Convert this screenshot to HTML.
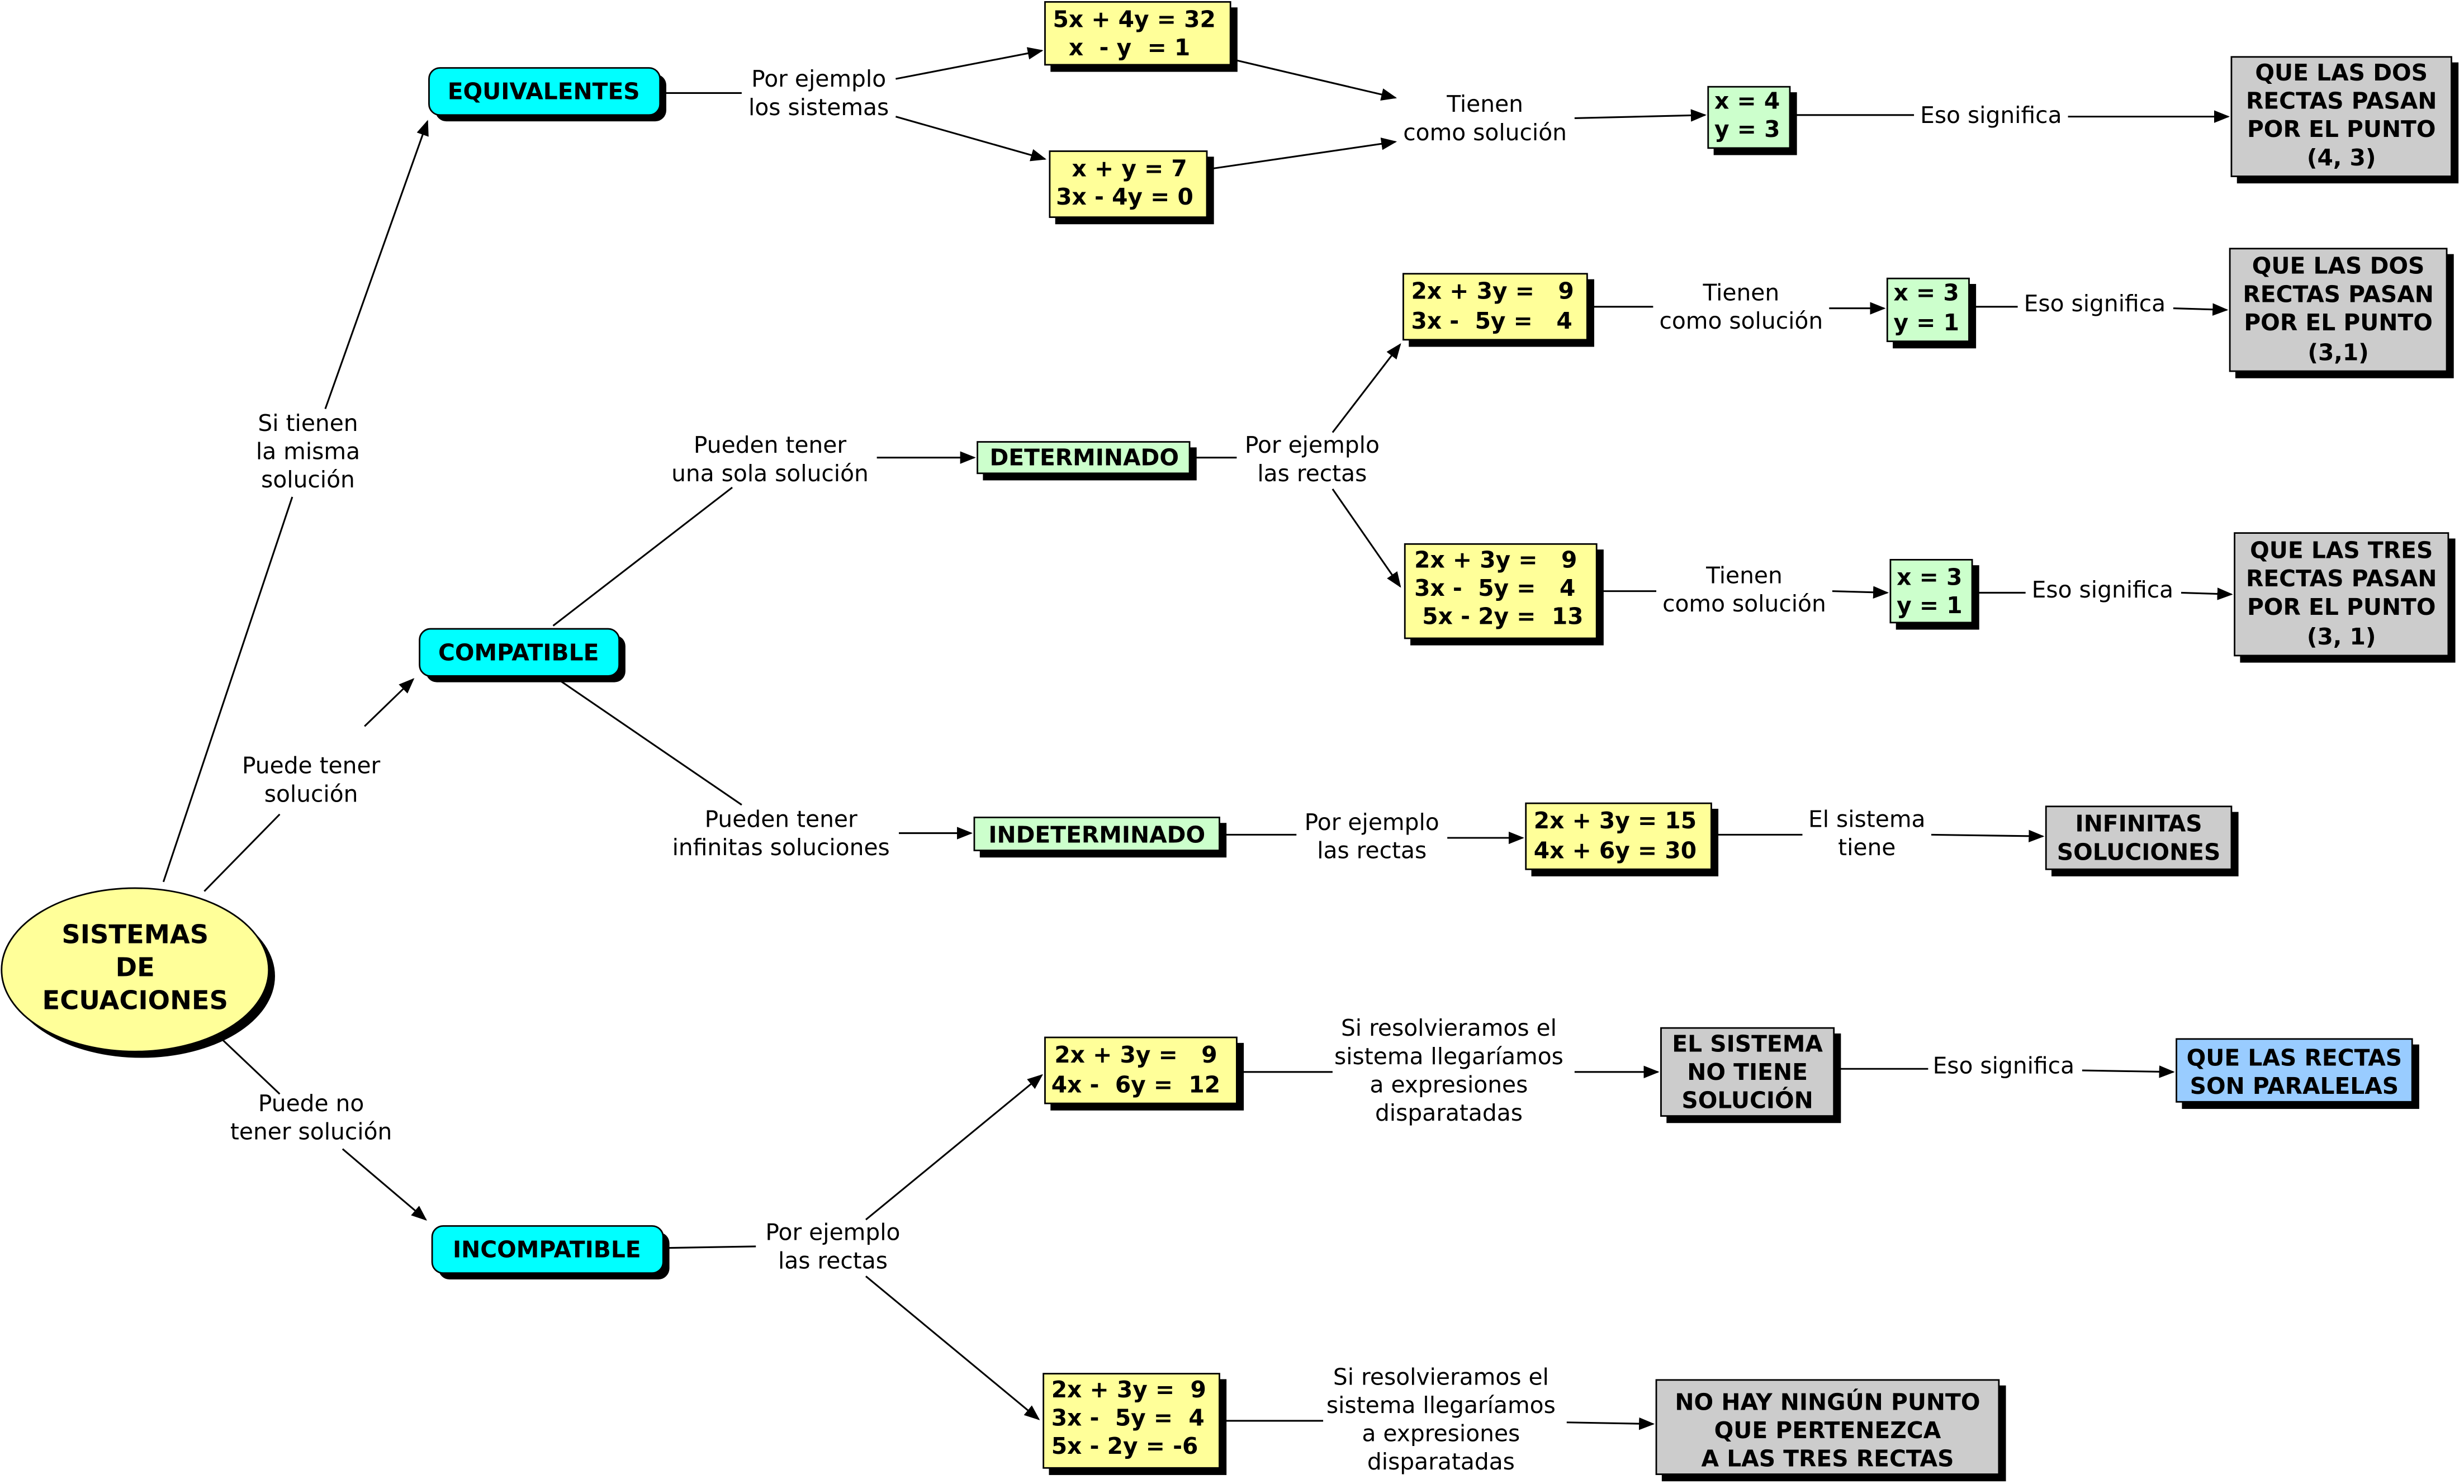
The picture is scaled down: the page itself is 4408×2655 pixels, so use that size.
<!DOCTYPE html>
<html><head><meta charset="utf-8"><style>
html,body{margin:0;padding:0;background:#fff;}
svg{display:block;}
text{font-family:"DejaVu Sans","Liberation Sans",sans-serif;}
.l{font-size:14.5px;fill:#000;text-anchor:middle;}
.b{font-size:14.5px;font-weight:bold;fill:#000;}
.bc{font-size:14.5px;font-weight:bold;fill:#000;text-anchor:middle;}
line,polyline{stroke:#000;stroke-width:1.1;fill:none;}
.a{marker-end:url(#ar);}
</style></head><body>
<svg width="4408" height="2655" viewBox="0 0 1568 944" xmlns="http://www.w3.org/2000/svg">
<defs><marker id="ar" markerWidth="10" markerHeight="8" refX="9" refY="4" orient="auto" markerUnits="userSpaceOnUse"><path d="M0,0 L10,4 L0,8 z" fill="#000"/></marker></defs>

<!-- connectors -->
<line x1="104" y1="561" x2="186" y2="316"/>
<line class="a" x1="207" y1="260" x2="272" y2="77"/>
<line x1="130" y1="567" x2="178" y2="518"/>
<line class="a" x1="232" y1="462" x2="263" y2="432"/>
<line x1="140" y1="660" x2="178" y2="696"/>
<line class="a" x1="218" y1="731" x2="271" y2="776"/>
<line x1="420" y1="59" x2="472" y2="59"/>
<line class="a" x1="570" y1="50" x2="663" y2="32"/>
<line class="a" x1="570" y1="74" x2="665" y2="101"/>
<line class="a" x1="786" y1="38" x2="888" y2="62"/>
<line class="a" x1="772" y1="107" x2="888" y2="90"/>
<line class="a" x1="1002" y1="75" x2="1085" y2="73"/>
<line x1="1140" y1="73" x2="1218" y2="73"/>
<line class="a" x1="1316" y1="74" x2="1418" y2="74"/>
<line x1="352" y1="398" x2="466" y2="310"/>
<line class="a" x1="558" y1="291" x2="620" y2="291"/>
<line x1="757" y1="291" x2="787" y2="291"/>
<line class="a" x1="848" y1="275" x2="891" y2="219"/>
<line class="a" x1="848" y1="311" x2="891" y2="373"/>
<line x1="1012" y1="195" x2="1052" y2="195"/>
<line class="a" x1="1164" y1="196" x2="1199" y2="196"/>
<line x1="1255" y1="195" x2="1284" y2="195"/>
<line class="a" x1="1383" y1="196" x2="1417" y2="197"/>
<line x1="1018" y1="376" x2="1054" y2="376"/>
<line class="a" x1="1166" y1="376" x2="1201" y2="377"/>
<line x1="1258" y1="377" x2="1289" y2="377"/>
<line class="a" x1="1388" y1="377" x2="1420" y2="378"/>
<line x1="355" y1="432" x2="472" y2="512"/>
<line class="a" x1="572" y1="530" x2="618" y2="530"/>
<line x1="777" y1="531" x2="825" y2="531"/>
<line class="a" x1="921" y1="533" x2="969" y2="533"/>
<line x1="1092" y1="531" x2="1147" y2="531"/>
<line class="a" x1="1229" y1="531" x2="1300" y2="532"/>
<line x1="424" y1="794" x2="481" y2="793"/>
<line class="a" x1="551" y1="776" x2="663" y2="684"/>
<line class="a" x1="551" y1="812" x2="661" y2="903"/>
<line x1="789" y1="682" x2="848" y2="682"/>
<line class="a" x1="1002" y1="682" x2="1055" y2="682"/>
<line x1="1170" y1="680" x2="1227" y2="680"/>
<line class="a" x1="1325" y1="681" x2="1383" y2="682"/>
<line x1="778" y1="904" x2="842" y2="904"/>
<line class="a" x1="997" y1="905" x2="1052" y2="906"/>

<!-- ellipse -->
<ellipse cx="90" cy="621" rx="85" ry="52" fill="#000"/>
<ellipse cx="86" cy="617" rx="85" ry="52" fill="#ffff99" stroke="#000" stroke-width="1"/>
<text class="bc" style="font-size:16.5px" x="86" y="600">SISTEMAS</text>
<text class="bc" style="font-size:16.5px" x="86" y="621">DE</text>
<text class="bc" style="font-size:16.5px" x="86" y="642">ECUACIONES</text>

<!-- cyan -->
<g>
<rect x="277" y="47" width="147" height="30" rx="7" fill="#000"/><rect x="273" y="43" width="147" height="30" rx="7" fill="#00ffff" stroke="#000"/>
<text class="bc" x="346" y="63">EQUIVALENTES</text>
<rect x="271" y="404" width="127" height="30" rx="7" fill="#000"/><rect x="267" y="400" width="127" height="30" rx="7" fill="#00ffff" stroke="#000"/>
<text class="bc" x="330" y="420">COMPATIBLE</text>
<rect x="279" y="784" width="147" height="30" rx="7" fill="#000"/><rect x="275" y="780" width="147" height="30" rx="7" fill="#00ffff" stroke="#000"/>
<text class="bc" x="348" y="800">INCOMPATIBLE</text>
</g>

<!-- boxes: shadow + box -->
<g stroke="#000" stroke-width="1">
<rect x="669" y="5" width="118" height="40" fill="#000"/><rect x="665" y="1" width="118" height="40" fill="#ffff99"/>
<rect x="672" y="100" width="100" height="42" fill="#000"/><rect x="668" y="96" width="100" height="42" fill="#ffff99"/>
<rect x="1091" y="59" width="52" height="39" fill="#000"/><rect x="1087" y="55" width="52" height="39" fill="#ccffcc"/>
<rect x="1424" y="40" width="140" height="76" fill="#000"/><rect x="1420" y="36" width="140" height="76" fill="#cccccc"/>
<rect x="897" y="178" width="117" height="42" fill="#000"/><rect x="893" y="174" width="117" height="42" fill="#ffff99"/>
<rect x="1205" y="181" width="52" height="40" fill="#000"/><rect x="1201" y="177" width="52" height="40" fill="#ccffcc"/>
<rect x="1423" y="162" width="138" height="78" fill="#000"/><rect x="1419" y="158" width="138" height="78" fill="#cccccc"/>
<rect x="626" y="285" width="135" height="20" fill="#000"/><rect x="622" y="281" width="135" height="20" fill="#ccffcc"/>
<rect x="898" y="350" width="122" height="60" fill="#000"/><rect x="894" y="346" width="122" height="60" fill="#ffff99"/>
<rect x="1207" y="360" width="52" height="40" fill="#000"/><rect x="1203" y="356" width="52" height="40" fill="#ccffcc"/>
<rect x="1426" y="343" width="136" height="78" fill="#000"/><rect x="1422" y="339" width="136" height="78" fill="#cccccc"/>
<rect x="624" y="524" width="156" height="21" fill="#000"/><rect x="620" y="520" width="156" height="21" fill="#ccffcc"/>
<rect x="975" y="515" width="118" height="42" fill="#000"/><rect x="971" y="511" width="118" height="42" fill="#ffff99"/>
<rect x="1306" y="517" width="118" height="40" fill="#000"/><rect x="1302" y="513" width="118" height="40" fill="#cccccc"/>
<rect x="669" y="664" width="122" height="42" fill="#000"/><rect x="665" y="660" width="122" height="42" fill="#ffff99"/>
<rect x="1061" y="658" width="110" height="56" fill="#000"/><rect x="1057" y="654" width="110" height="56" fill="#cccccc"/>
<rect x="1389" y="665" width="150" height="40" fill="#000"/><rect x="1385" y="661" width="150" height="40" fill="#99ccff"/>
<rect x="668" y="878" width="112" height="60" fill="#000"/><rect x="664" y="874" width="112" height="60" fill="#ffff99"/>
<rect x="1058" y="882" width="218" height="60" fill="#000"/><rect x="1054" y="878" width="218" height="60" fill="#cccccc"/>
</g>

<!-- box texts -->
<text class="b" x="670" y="17" xml:space="preserve">5x + 4y = 32</text>
<text class="b" x="670" y="35" xml:space="preserve">  x  - y  = 1</text>
<text class="b" x="672" y="112" xml:space="preserve">  x + y = 7</text>
<text class="b" x="672" y="130" xml:space="preserve">3x - 4y = 0</text>
<text class="b" x="1091" y="69">x = 4</text>
<text class="b" x="1091" y="87">y = 3</text>
<text class="bc" x="1490" y="51">QUE LAS DOS</text>
<text class="bc" x="1490" y="69">RECTAS PASAN</text>
<text class="bc" x="1490" y="87">POR EL PUNTO</text>
<text class="bc" x="1490" y="105">(4, 3)</text>
<text class="b" x="898" y="190" xml:space="preserve">2x + 3y =   9</text>
<text class="b" x="898" y="209" xml:space="preserve">3x -  5y =   4</text>
<text class="b" x="1205" y="191">x = 3</text>
<text class="b" x="1205" y="210">y = 1</text>
<text class="bc" x="1488" y="174">QUE LAS DOS</text>
<text class="bc" x="1488" y="192">RECTAS PASAN</text>
<text class="bc" x="1488" y="210">POR EL PUNTO</text>
<text class="bc" x="1488" y="229">(3,1)</text>
<text class="bc" x="690" y="296">DETERMINADO</text>
<text class="b" x="900" y="361" xml:space="preserve">2x + 3y =   9</text>
<text class="b" x="900" y="379" xml:space="preserve">3x -  5y =   4</text>
<text class="b" x="900" y="397" xml:space="preserve"> 5x - 2y =  13</text>
<text class="b" x="1207" y="372">x = 3</text>
<text class="b" x="1207" y="390">y = 1</text>
<text class="bc" x="1490" y="355">QUE LAS TRES</text>
<text class="bc" x="1490" y="373">RECTAS PASAN</text>
<text class="bc" x="1490" y="391">POR EL PUNTO</text>
<text class="bc" x="1490" y="410">(3, 1)</text>
<text class="bc" x="698" y="536">INDETERMINADO</text>
<text class="b" x="976" y="527">2x + 3y = 15</text>
<text class="b" x="976" y="546">4x + 6y = 30</text>
<text class="bc" x="1361" y="529">INFINITAS</text>
<text class="bc" x="1361" y="547">SOLUCIONES</text>
<text class="b" x="671" y="676" xml:space="preserve">2x + 3y =   9</text>
<text class="b" x="669" y="695" xml:space="preserve">4x -  6y =  12</text>
<text class="bc" x="1112" y="669">EL SISTEMA</text>
<text class="bc" x="1112" y="687">NO TIENE</text>
<text class="bc" x="1112" y="705">SOLUCIÓN</text>
<text class="bc" x="1460" y="678">QUE LAS RECTAS</text>
<text class="bc" x="1460" y="696">SON PARALELAS</text>
<text class="b" x="669" y="889" xml:space="preserve">2x + 3y =  9</text>
<text class="b" x="669" y="907" xml:space="preserve">3x -  5y =  4</text>
<text class="b" x="669" y="925" xml:space="preserve">5x - 2y = -6</text>
<text class="bc" x="1163" y="897">NO HAY NINGÚN PUNTO</text>
<text class="bc" x="1163" y="915">QUE PERTENEZCA</text>
<text class="bc" x="1163" y="933">A LAS TRES RECTAS</text>

<!-- labels -->
<g class="l">
<text class="l" x="196" y="274">Si tienen</text>
<text class="l" x="196" y="292">la misma</text>
<text class="l" x="196" y="310">solución</text>
<text class="l" x="198" y="492">Puede tener</text>
<text class="l" x="198" y="510">solución</text>
<text class="l" x="198" y="707">Puede no</text>
<text class="l" x="198" y="725">tener solución</text>
<text class="l" x="521" y="55">Por ejemplo</text>
<text class="l" x="521" y="73">los sistemas</text>
<text class="l" x="945" y="71">Tienen</text>
<text class="l" x="945" y="89">como solución</text>
<text class="l" x="1267" y="78">Eso significa</text>
<text class="l" x="490" y="288">Pueden tener</text>
<text class="l" x="490" y="306">una sola solución</text>
<text class="l" x="835" y="288">Por ejemplo</text>
<text class="l" x="835" y="306">las rectas</text>
<text class="l" x="1108" y="191">Tienen</text>
<text class="l" x="1108" y="209">como solución</text>
<text class="l" x="1333" y="198">Eso significa</text>
<text class="l" x="1110" y="371">Tienen</text>
<text class="l" x="1110" y="389">como solución</text>
<text class="l" x="1338" y="380">Eso significa</text>
<text class="l" x="497" y="526">Pueden tener</text>
<text class="l" x="497" y="544">infinitas soluciones</text>
<text class="l" x="873" y="528">Por ejemplo</text>
<text class="l" x="873" y="546">las rectas</text>
<text class="l" x="1188" y="526">El sistema</text>
<text class="l" x="1188" y="544">tiene</text>
<text class="l" x="922" y="659">Si resolvieramos el</text>
<text class="l" x="922" y="677">sistema llegaríamos</text>
<text class="l" x="922" y="695">a expresiones</text>
<text class="l" x="922" y="713">disparatadas</text>
<text class="l" x="1275" y="683">Eso significa</text>
<text class="l" x="530" y="789">Por ejemplo</text>
<text class="l" x="530" y="807">las rectas</text>
<text class="l" x="917" y="881">Si resolvieramos el</text>
<text class="l" x="917" y="899">sistema llegaríamos</text>
<text class="l" x="917" y="917">a expresiones</text>
<text class="l" x="917" y="935">disparatadas</text>
</g>
</svg>
</body></html>
